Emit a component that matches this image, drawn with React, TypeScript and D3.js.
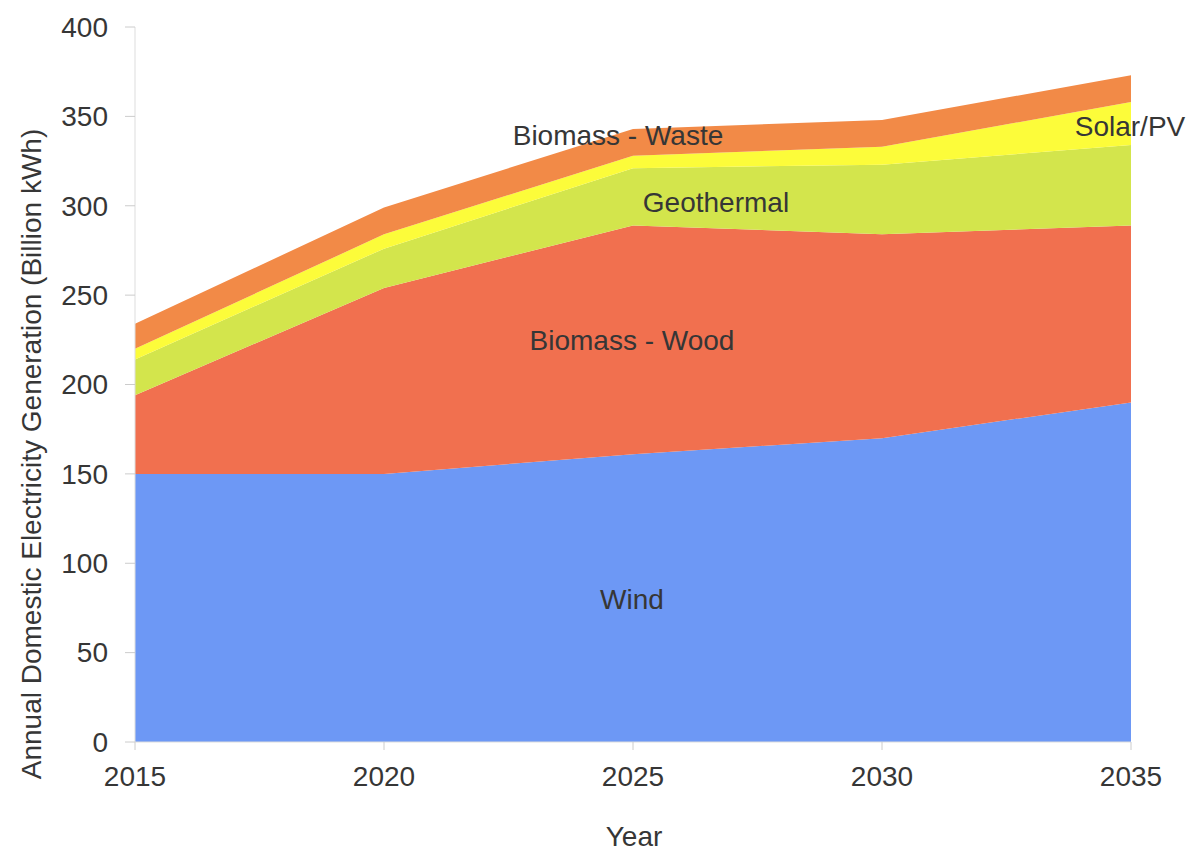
import React from "react";
import * as d3 from "d3";

// Projected annual domestic renewable generation, billion kWh
const years = [2015, 2020, 2025, 2030, 2035];
const wind = [150, 150, 161, 170, 190];
const biomassWood = [44, 104, 128, 114, 99];
const geothermal = [20, 22, 32, 39, 45];
const solarPV = [6, 8, 7, 10, 24];
const biomassWaste = [14, 15, 15, 15, 15];

const seriesKeys = ["wind", "wood", "geo", "solar", "waste"];
const seriesColors: Record<string, string> = {
  wind: "#6d98f5",
  wood: "#f1704f",
  geo: "#d3e54c",
  solar: "#fcfc3a",
  waste: "#f28a47",
};

const yTicks = [0, 50, 100, 150, 200, 250, 300, 350, 400];

const W = 1193;
const H = 855;
const margin = { left: 135, right: 62, top: 27, bottom: 113 };
const FONT = "'Liberation Sans', Arial, Helvetica, sans-serif";
const FS = 28;

export default function App() {
  const rows = years.map((yr, i) => ({
    year: yr,
    wind: wind[i],
    wood: biomassWood[i],
    geo: geothermal[i],
    solar: solarPV[i],
    waste: biomassWaste[i],
  }));

  const x = d3
    .scaleLinear()
    .domain([2015, 2035])
    .range([margin.left, W - margin.right]);
  const y = d3
    .scaleLinear()
    .domain([0, 400])
    .range([H - margin.bottom, margin.top]);

  const stacked = d3.stack<any>().keys(seriesKeys)(rows);
  const area = d3
    .area<any>()
    .x((d) => x(d.data.year))
    .y0((d) => y(d[0]))
    .y1((d) => y(d[1]));

  const x0 = x(2015);
  const yBase = y(0);
  const txt = "#363636";

  return (
    <svg
      width={W}
      height={H}
      style={{ position: "absolute", left: 0, top: 0, background: "#fff" }}
      fontFamily={FONT}
    >
      {stacked.map((s) => (
        <path key={s.key} d={area(s) || ""} fill={seriesColors[s.key]} />
      ))}

      {/* axes */}
      <line x1={x0} x2={x0} y1={y(400)} y2={yBase} stroke="#ddd" strokeWidth={1} />
      <line x1={x0} x2={x(2035)} y1={yBase} y2={yBase} stroke="#ddd" strokeWidth={1} />
      {yTicks.map((t) => (
        <g key={t}>
          <line x1={x0 - 10} x2={x0} y1={y(t)} y2={y(t)} stroke="#ccc" />
          <text
            x={x0 - 27}
            y={y(t)}
            dy="0.35em"
            textAnchor="end"
            fontSize={FS}
            fill={txt}
          >
            {t}
          </text>
        </g>
      ))}
      {years.map((yr) => (
        <g key={yr}>
          <line x1={x(yr)} x2={x(yr)} y1={yBase} y2={yBase + 8} stroke="#ccc" />
          <text x={x(yr)} y={yBase + 44} textAnchor="middle" fontSize={FS} fill={txt}>
            {yr}
          </text>
        </g>
      ))}

      {/* axis titles */}
      <text x={634} y={846} textAnchor="middle" fontSize={FS} fill={txt}>
        Year
      </text>
      <text
        transform={`translate(41,${454}) rotate(-90)`}
        textAnchor="middle"
        fontSize={FS}
        fill={txt}
      >
        Annual Domestic Electricity Generation (Billion kWh)
      </text>

      {/* series labels */}
      <text x={618} y={145} textAnchor="middle" fontSize={FS} fill={txt}>
        Biomass - Waste
      </text>
      <text x={1130} y={136} textAnchor="middle" fontSize={FS} fill={txt}>
        Solar/PV
      </text>
      <text x={716} y={212} textAnchor="middle" fontSize={FS} fill={txt}>
        Geothermal
      </text>
      <text x={632} y={350} textAnchor="middle" fontSize={FS} fill={txt}>
        Biomass - Wood
      </text>
      <text x={632} y={609} textAnchor="middle" fontSize={FS} fill={txt}>
        Wind
      </text>
    </svg>
  );
}
